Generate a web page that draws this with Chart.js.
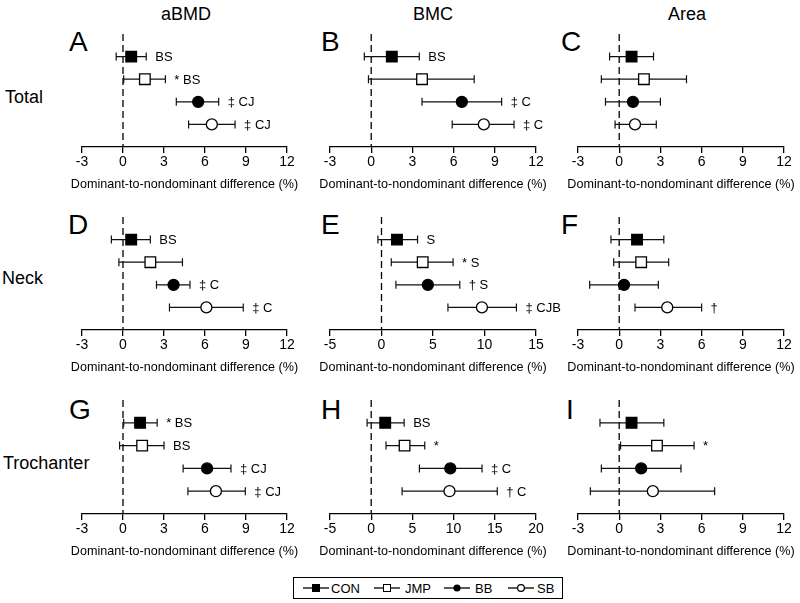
<!DOCTYPE html>
<html>
<head>
<meta charset="utf-8">
<script src="https://cdn.jsdelivr.net/npm/chart.js@4"></script>
<style>
  body { margin: 0; width: 800px; height: 603px; position: relative; overflow: hidden; background: #fff;
         font-family: "Liberation Sans", Arial, sans-serif; color: #000; }
  .lbl { position: absolute; line-height: 1; white-space: nowrap; }
  .col { font-size: 18px; width: 120px; text-align: center; }
  .row { font-size: 18px; }
  .letter { font-size: 28px; }
  canvas { position: absolute; }
  #legend { position: absolute; left: 293px; top: 577px; width: 268px; height: 20px; border: 1.5px solid #000; }
  #legend .it { position: absolute; top: 4px; font-size: 13px; line-height: 13px; }
  #legend svg { position: absolute; top: 5px; }
</style>
</head>
<body>

<div class="lbl col" style="left:126px;top:5px">aBMD</div>
<div class="lbl col" style="left:373px;top:5px">BMC</div>
<div class="lbl col" style="left:627px;top:5px">Area</div>

<div class="lbl row" style="left:5px;top:88px">Total</div>
<div class="lbl row" style="left:2px;top:269px">Neck</div>
<div class="lbl row" style="left:3px;top:454px">Trochanter</div>

<div class="lbl letter" style="left:69px;top:28px">A</div>
<div class="lbl letter" style="left:321px;top:28px">B</div>
<div class="lbl letter" style="left:561px;top:28px">C</div>
<div class="lbl letter" style="left:68px;top:211px">D</div>
<div class="lbl letter" style="left:321px;top:211px">E</div>
<div class="lbl letter" style="left:561px;top:211px">F</div>
<div class="lbl letter" style="left:69px;top:396px">G</div>
<div class="lbl letter" style="left:321px;top:396px">H</div>
<div class="lbl letter" style="left:566px;top:396px">I</div>

<canvas id="pA" width="260" height="180" style="left:50px;top:20px"></canvas>
<canvas id="pB" width="250" height="180" style="left:312px;top:20px"></canvas>
<canvas id="pC" width="240" height="180" style="left:560px;top:20px"></canvas>
<canvas id="pD" width="260" height="180" style="left:50px;top:200px"></canvas>
<canvas id="pE" width="250" height="180" style="left:312px;top:200px"></canvas>
<canvas id="pF" width="240" height="180" style="left:560px;top:200px"></canvas>
<canvas id="pG" width="260" height="180" style="left:50px;top:385px"></canvas>
<canvas id="pH" width="250" height="180" style="left:312px;top:385px"></canvas>
<canvas id="pI" width="240" height="180" style="left:560px;top:385px"></canvas>

<div id="legend">
  <svg width="26" height="10" style="left:9px"><line x1="0" y1="5" x2="26" y2="5" stroke="#000" stroke-width="1.3"/><rect x="9.5" y="1.5" width="7" height="7" fill="#000" stroke="#000"/></svg>
  <span class="it" style="left:37px">CON</span>
  <svg width="26" height="10" style="left:80px"><line x1="0" y1="5" x2="26" y2="5" stroke="#000" stroke-width="1.3"/><rect x="9.5" y="1.5" width="7" height="7" fill="#fff" stroke="#000"/></svg>
  <span class="it" style="left:111px">JMP</span>
  <svg width="26" height="10" style="left:150px"><line x1="0" y1="5" x2="26" y2="5" stroke="#000" stroke-width="1.3"/><circle cx="13" cy="5" r="3.6" fill="#000"/></svg>
  <span class="it" style="left:181px">BB</span>
  <svg width="26" height="10" style="left:214px"><line x1="0" y1="5" x2="26" y2="5" stroke="#000" stroke-width="1.3"/><circle cx="13" cy="5" r="3.4" fill="#fff" stroke="#000" stroke-width="1.2"/></svg>
  <span class="it" style="left:243px">SB</span>
</div>

<script>
const FONT = "'Liberation Sans', Arial, sans-serif";
const X_TITLE = "Dominant-to-nondominant difference (%)";

const groups = ["CON", "JMP", "BB", "SB"];

// Total
const aMean = [0.6, 1.6, 5.5, 6.5];
const aLow = [-0.5, 0.05, 3.9, 4.8];
const aHigh = [1.7, 3.1, 7.0, 8.2];
const aNotes = ["BS", "* BS", "‡ CJ", "‡ CJ"];

const bMean = [1.5, 3.7, 6.6, 8.2];
const bLow = [-0.5, -0.2, 3.7, 5.9];
const bHigh = [3.5, 7.5, 9.5, 10.4];
const bNotes = ["BS", "", "‡ C", "‡ C"];

const cMean = [0.9, 1.8, 1.0, 1.15];
const cLow = [-0.7, -1.3, -1.0, -0.3];
const cHigh = [2.5, 4.9, 3.0, 2.7];
const cNotes = ["", "", "", ""];

// Neck
const dMean = [0.6, 2.0, 3.7, 6.1];
const dLow = [-0.85, -0.3, 2.45, 3.4];
const dHigh = [2.0, 4.35, 4.9, 8.8];
const dNotes = ["BS", "", "‡ C", "‡ C"];

const eMean = [1.5, 4.0, 4.5, 9.75];
const eLow = [-0.35, 0.95, 1.4, 6.45];
const eHigh = [3.5, 6.95, 7.6, 13.1];
const eNotes = ["S", "* S", "† S", "‡ CJB"];

const fMean = [1.3, 1.6, 0.35, 3.5];
const fLow = [-0.6, -0.4, -2.15, 1.15];
const fHigh = [3.25, 3.6, 2.85, 6.0];
const fNotes = ["", "", "", "†"];

// Trochanter
const gMean = [1.25, 1.4, 6.15, 6.8];
const gLow = [0.05, -0.25, 4.4, 4.75];
const gHigh = [2.5, 3.0, 7.9, 8.95];
const gNotes = ["* BS", "BS", "‡ CJ", "‡ CJ"];

const hMean = [1.7, 4.05, 9.6, 9.5];
const hLow = [-0.5, 1.8, 5.85, 3.75];
const hHigh = [4.0, 6.5, 13.45, 15.3];
const hNotes = ["BS", "*", "‡ C", "† C"];

const iMean = [0.9, 2.75, 1.6, 2.45];
const iLow = [-1.4, 0.1, -1.3, -2.1];
const iHigh = [3.25, 5.45, 4.5, 6.95];
const iNotes = ["", "*", "", ""];

// x ranges: [min, max, step]
const rangeStd = [-3, 12, 3];
const rangeE = [-5, 15, 5];
const rangeH = [-5, 20, 5];

const markerStyle = [
  { pointStyle: "rect", radius: 7.5, fill: "#000" },
  { pointStyle: "rect", radius: 7.5, fill: "#fff" },
  { pointStyle: "circle", radius: 5.5, fill: "#000" },
  { pointStyle: "circle", radius: 5.5, fill: "#fff" },
];

// error bars + dashed zero line under the markers, notes and axis title on top
const errorBarPlugin = {
  id: "errorBars",
  beforeDatasetsDraw(chart, args, opts) {
    const { ctx, chartArea } = chart;
    const xs = chart.scales.x;
    const ys = chart.scales.y;
    ctx.save();
    // zero line
    const x0 = xs.getPixelForValue(0);
    ctx.strokeStyle = "#000";
    ctx.lineWidth = 1.3;
    ctx.setLineDash([7, 4]);
    ctx.beginPath();
    ctx.moveTo(x0, chartArea.top);
    ctx.lineTo(x0, chartArea.bottom);
    ctx.stroke();
    ctx.setLineDash([]);

    ctx.lineWidth = 1.2;
    ctx.strokeStyle = "#111";
    opts.low.forEach((lo, i) => {
      const y = ys.getPixelForValue(i);
      const xl = xs.getPixelForValue(lo);
      const xh = xs.getPixelForValue(opts.high[i]);
      ctx.beginPath();
      ctx.moveTo(xl, y);
      ctx.lineTo(xh, y);
      ctx.moveTo(xl, y - 4);
      ctx.lineTo(xl, y + 4);
      ctx.moveTo(xh, y - 4);
      ctx.lineTo(xh, y + 4);
      ctx.stroke();
    });
    ctx.restore();
  },
  afterDatasetsDraw(chart, args, opts) {
    const { ctx } = chart;
    const xs = chart.scales.x;
    const ys = chart.scales.y;
    ctx.save();
    ctx.fillStyle = "#000";
    ctx.font = "13px " + FONT;
    ctx.textAlign = "left";
    ctx.textBaseline = "middle";
    opts.notes.forEach((t, i) => {
      if (!t) return;
      ctx.fillText(t, xs.getPixelForValue(opts.high[i]) + 9, ys.getPixelForValue(i) + 1);
    });
    // axis title, not squeezed to the axis width
    ctx.textAlign = "center";
    ctx.font = "12.6px " + FONT;
    ctx.fillText(X_TITLE, (xs.left + xs.right) / 2, xs.top + 38);
    ctx.restore();
  },
};

function makePanel(id, mean, low, high, notes, range, padding) {
  const datasets = groups.map((g, i) => ({
    label: g,
    data: [{ x: mean[i], y: i }],
    pointStyle: markerStyle[i].pointStyle,
    pointRadius: markerStyle[i].radius,
    pointBackgroundColor: markerStyle[i].fill,
    pointBorderColor: "#000",
    pointBorderWidth: 1.3,
    showLine: false,
  }));

  return new Chart(document.getElementById(id), {
    type: "scatter",
    data: { datasets },
    plugins: [errorBarPlugin],
    options: {
      responsive: false,
      animation: false,
      devicePixelRatio: 1,
      layout: { padding },
      plugins: {
        legend: { display: false },
        tooltip: { enabled: false },
        errorBars: { low, high, notes },
      },
      scales: {
        x: {
          type: "linear",
          min: range[0],
          max: range[1],
          afterFit: (s) => { s.height = 49; },
          grid: { drawOnChartArea: false, drawTicks: true, tickLength: 6, color: "#000", lineWidth: 1.3 },
          border: { display: true, color: "#000", width: 1.3 },
          ticks: {
            stepSize: range[2],
            color: "#000",
            padding: 1,
            maxRotation: 0,
            autoSkip: false,
            font: { size: 14, family: FONT },
          },
          title: { display: false },
        },
        y: { display: false, min: -1, max: 4, reverse: true },
      },
    },
  });
}

// column paddings (left/right), row paddings (top/bottom)
const colPad = [{ left: 32, right: 23 }, { left: 18, right: 26 }, { left: 18, right: 16 }];
const rowPad = [{ top: 14, bottom: 4 }, { top: 17, bottom: 1 }, { top: 15, bottom: 2 }];
const pad = (r, c) => Object.assign({}, colPad[c], rowPad[r]);

makePanel("pA", aMean, aLow, aHigh, aNotes, rangeStd, pad(0, 0));
makePanel("pB", bMean, bLow, bHigh, bNotes, rangeStd, pad(0, 1));
makePanel("pC", cMean, cLow, cHigh, cNotes, rangeStd, pad(0, 2));
makePanel("pD", dMean, dLow, dHigh, dNotes, rangeStd, pad(1, 0));
makePanel("pE", eMean, eLow, eHigh, eNotes, rangeE, pad(1, 1));
makePanel("pF", fMean, fLow, fHigh, fNotes, rangeStd, pad(1, 2));
makePanel("pG", gMean, gLow, gHigh, gNotes, rangeStd, pad(2, 0));
makePanel("pH", hMean, hLow, hHigh, hNotes, rangeH, pad(2, 1));
makePanel("pI", iMean, iLow, iHigh, iNotes, rangeStd, pad(2, 2));
</script>
</body>
</html>
